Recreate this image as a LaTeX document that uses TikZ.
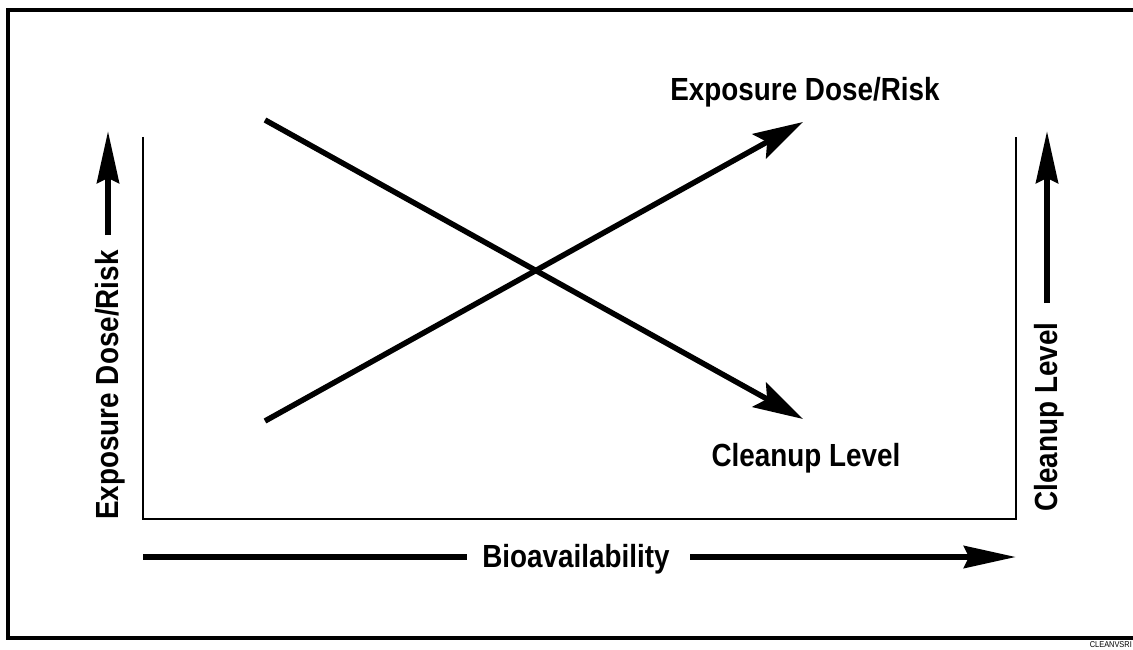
\documentclass[tikz,border=0pt]{standalone}
\usepackage{fontspec}
\setmainfont{Liberation Sans}
\newfontfamily\narrowsans[FakeStretch=0.87]{Liberation Sans}
\usetikzlibrary{arrows.meta}
\begin{document}
\begin{tikzpicture}[x=1pt,y=-1pt,
  lbl/.style={font=\narrowsans\fontsize{32}{34}\selectfont\bfseries, inner sep=0pt, anchor=base},
  trend/.style={line width=5.5pt, -{Stealth[length=50pt,width=28pt,inset=9pt]}},
  axisarrow/.style={line width=6pt, -{Stealth[length=52pt,width=22pt,inset=5pt]}},
  shaft/.style={line width=6pt},
  axisline/.style={line width=2pt},
  tag/.style={font=\narrowsans\fontsize{8.5}{10}\selectfont, inner sep=0pt, anchor=east}
]
\useasboundingbox (0,0) rectangle (1133,650);
\clip (0,0) rectangle (1133,650);

% outer frame (runs past the right edge)
\draw[line width=4pt] (8,10) rectangle (1150,638);

% U-shaped axes
\coordinate (ytop) at (143,137);
\coordinate (origin) at (143,519);
\coordinate (xend) at (1016,519);
\coordinate (y2top) at (1016,137);
\draw[axisline] (ytop) -- (origin) -- (xend) -- (y2top);

% crossing trend lines
\coordinate (fallStart) at (265,120);
\coordinate (fallEnd) at (803,419);
\coordinate (riseStart) at (265,421);
\coordinate (riseEnd) at (803,122);
\draw[trend] (fallStart) -- (fallEnd);
\draw[trend] (riseStart) -- (riseEnd);
\node[lbl] (riskLbl) at (805,101) {Exposure Dose/Risk};
\node[lbl] (cleanLbl) at (806,466) {Cleanup Level};

% left axis label and arrow
\node[lbl, rotate=90] (yLbl) at (118,385) {Exposure Dose/Risk};
\coordinate (yArrBase) at (108,235);
\coordinate (yArrTip) at (108,131);
\draw[axisarrow] (yArrBase) -- (yArrTip);

% right axis label and arrow
\node[lbl, rotate=90] (y2Lbl) at (1057,417) {Cleanup Level};
\coordinate (y2ArrBase) at (1047,303);
\coordinate (y2ArrTip) at (1047,131);
\draw[axisarrow] (y2ArrBase) -- (y2ArrTip);

% bottom label and arrow
\node[lbl] (xLbl) at (576,567) {Bioavailability};
\coordinate (xArrStart) at (143,557);
\coordinate (xArrLeftEnd) at (467,557);
\coordinate (xArrRightStart) at (690,557);
\coordinate (xArrTip) at (1016,557);
\draw[shaft] (xArrStart) -- (xArrLeftEnd);
\draw[axisarrow] (xArrRightStart) -- (xArrTip);

% file tag in the corner
\node[tag] (fileTag) at (1132,645) {CLEANVSRI};
\end{tikzpicture}
\end{document}
